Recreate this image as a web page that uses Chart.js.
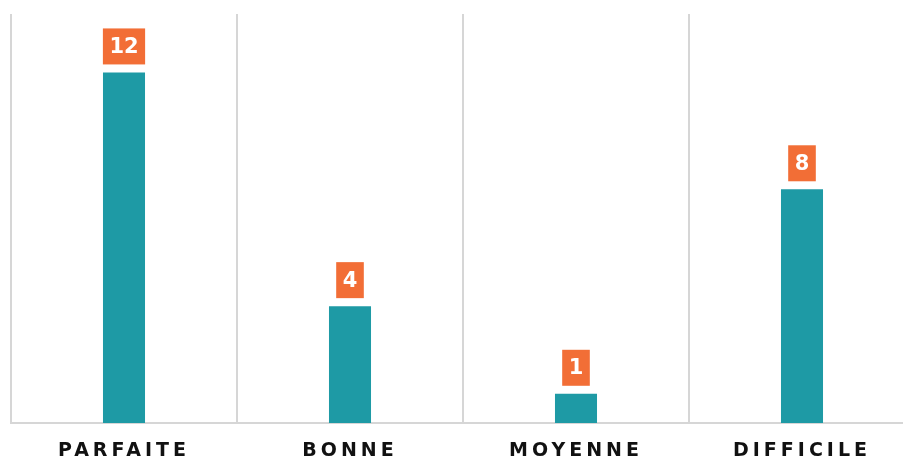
<!DOCTYPE html>
<html>
<head>
<meta charset="utf-8">
<script src="https://cdn.jsdelivr.net/npm/chart.js@4/dist/chart.umd.min.js"></script>
<style>
    html, body { margin: 0; padding: 0; background: #fff; overflow: hidden; }
    #wrap { width: 916px; height: 461px; }
</style>
</head>
<body>
<div id="wrap"><canvas id="bar-canvas"></canvas></div>
<script>
    const categories = ['PARFAITE', 'BONNE', 'MOYENNE', 'DIFFICILE'];
    const counts = [12, 4, 1, 8];

    const teal = '#1e9aa5';
    const orange = '#f26e36';
    const grey = '#d6d6d6';

    // letter spaced axis labels
    const spacing = {
        id: 'spacing',
        beforeDraw(chart) {
            chart.ctx.letterSpacing = '4px';
        }
    };

    // orange value boxes above each bar
    const valueBoxes = {
        id: 'valueBoxes',
        afterDatasetsDraw(chart) {
            let ctx = chart.ctx;
            let meta = chart.getDatasetMeta(0);
            ctx.save();
            ctx.letterSpacing = '0px';
            ctx.font = 'bold 21px "DejaVu Sans"';
            ctx.textAlign = 'center';
            ctx.textBaseline = 'middle';
            meta.data.forEach((bar, i) => {
                let text = String(counts[i]);
                let w = ctx.measureText(text).width + 13;
                let h = 36;
                let bottom = bar.y - 8;
                ctx.fillStyle = orange;
                ctx.fillRect(bar.x - w / 2, bottom - h, w, h);
                ctx.fillStyle = '#fff';
                ctx.fillText(text, bar.x, bottom - h / 2 + 1);
            });
            ctx.restore();
        }
    };

    let ctx = document.getElementById('bar-canvas').getContext('2d');
    let myChart = new Chart(ctx, {
        type: 'bar',
        data: {
            labels: categories,
            datasets: [{
                data: counts,
                backgroundColor: teal,
                borderWidth: 0,
                categoryPercentage: 1,
                barPercentage: 0.186
            }]
        },
        options: {
            responsive: true,
            maintainAspectRatio: false,
            animation: false,
            layout: { padding: { left: 11, right: 1, top: 14, bottom: 0 } },
            plugins: {
                legend: { display: false },
                tooltip: { enabled: false }
            },
            scales: {
                x: {
                    afterFit(scale) { scale.height = 38; },
                    grid: { color: grey, lineWidth: 2, drawTicks: false, offset: true },
                    border: { color: grey, width: 2 },
                    ticks: {
                        color: '#111',
                        padding: 17,
                        font: { family: 'DejaVu Sans', size: 19, weight: 'bold' }
                    }
                },
                y: {
                    display: false,
                    min: 0,
                    max: 14
                }
            }
        },
        plugins: [spacing, valueBoxes]
    });
</script>
</body>
</html>
